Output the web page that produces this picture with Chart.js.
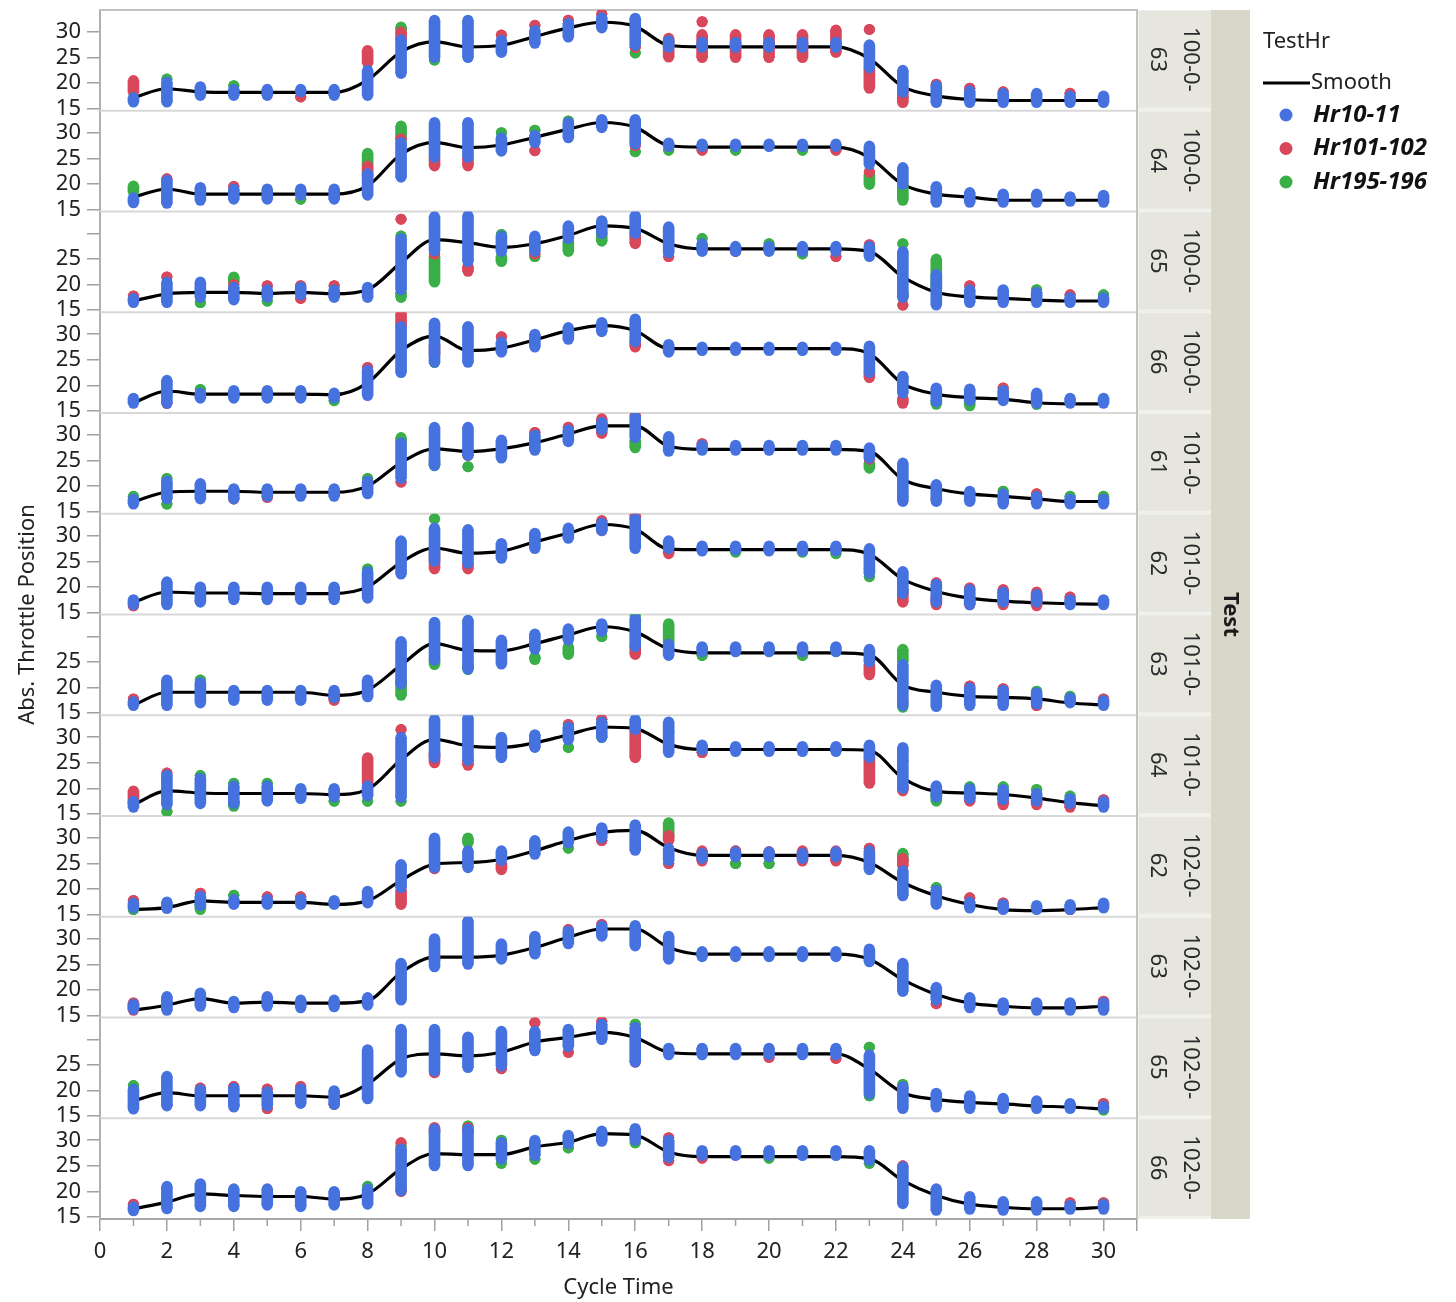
<!DOCTYPE html>
<html>
<head>
<meta charset="utf-8">
<script src="https://cdn.jsdelivr.net/npm/chart.js@4/dist/chart.umd.min.js"></script>
<style>
  html, body { margin: 0; padding: 0; background: #fff; }
</style>
</head>
<body>
<canvas id="myChart" width="1456" height="1302"></canvas>
<script>
const FONT = '"Noto Sans", "Open Sans", sans-serif';

// facet values (Test), top to bottom
const tests = ['100-0-63', '100-0-64', '100-0-65', '100-0-66', '101-0-61', '101-0-62',
               '101-0-63', '101-0-64', '102-0-62', '102-0-63', '102-0-65', '102-0-66'];
const cycle = [1, 2, 3, 4, 5, 6, 7, 8, 9, 10, 11, 12, 13, 14, 15, 16, 17, 18, 19, 20,
               21, 22, 23, 24, 25, 26, 27, 28, 29, 30];
const seriesNames = ['Hr10-11', 'Hr101-102', 'Hr195-196'];
const seriesColors = ['#4572de', '#d9475a', '#3aae47'];
const yTicks = [15, 20, 25, 30];
const xTicks = [0, 2, 4, 6, 8, 10, 12, 14, 16, 18, 20, 22, 24, 26, 28, 30, 31];
const noThirtyLabel = [2, 6, 10];

// smoother per facet, one value per cycle
const smooth = [
  [17.2,18.9,18.3,18.2,18.2,18.2,18.2,20.6,26.1,28.1,27.1,27.4,29.1,30.8,31.9,31.1,27.4,27.1,27.1,27.1,27.1,27.1,24.8,19.3,17.5,16.8,16.6,16.6,16.6,16.6],
  [17.4,19,18,18,18,18,18,19.6,25.8,28.1,27.1,27.6,29.1,30.7,32,31.1,27.5,27.2,27.2,27.2,27.2,27.2,25.2,19.9,18,17.4,16.8,16.8,16.8,16.8],
  [16.8,18.2,18.5,18.5,18.3,18.5,18.2,19,24.3,28.8,28.2,27.3,28,29.6,31.5,31,28,27,27,27,27,27,26.5,21.5,18.5,17.6,17.3,17,16.8,16.8],
  [16.6,18.9,18.3,18.3,18.3,18.3,18.2,20.5,26.8,29.7,26.8,27.3,28.9,30.7,31.7,30.7,27.2,27.2,27.2,27.2,27.2,27.2,26.2,20.3,18.3,17.6,17.3,16.6,16.4,16.4],
  [17,18.8,19,19,18.8,18.8,18.8,20,24.6,27.3,26.8,27.3,28.5,30.2,31.8,31.8,27.8,27.2,27.2,27.2,27.2,27.2,26.8,21.3,19.5,18.5,18,17.5,17,17],
  [17,19,18.8,18.8,18.7,18.7,18.7,20,24.8,27.6,26.6,27,28.8,30.5,32.2,31.3,27.4,27.3,27.3,27.3,27.3,27.3,26.4,21.5,19.1,17.8,17.2,16.9,16.7,16.6],
  [16.6,19.1,19.1,19.1,19.1,19.1,18.5,19.5,24.4,28.6,27.3,27.2,28.6,30.3,31.9,30.9,27.6,26.8,26.8,26.8,26.8,26.8,26.4,20.5,19.1,18.3,18.1,17.8,17,16.6],
  [16.8,19.5,19.1,19,19,19,18.8,19.8,25.6,29.6,28.3,28,28.9,30.5,32,31.7,28.6,27.6,27.6,27.6,27.6,27.6,27.4,22,19.4,19.1,18.8,18.1,17.2,16.6],
  [16,16.4,17.7,17.4,17.4,17.4,17,17.7,21.7,24.9,25.2,25.8,27.5,29.5,31.1,31.5,28.1,26.6,26.6,26.6,26.6,26.6,25.2,21.3,18.7,17,16,15.8,16,16.4],
  [16,17,18.3,17.4,17.6,17.4,17.4,17.9,23.4,26.4,26.4,26.8,28.3,30.3,31.9,31.9,28.3,27,27,27,27,27,26,22,19.1,17.4,16.8,16.5,16.5,16.8],
  [18,19.6,19,19,19,19,18.7,21.3,26.2,27.2,26.8,27.5,29.5,30.4,31.4,30.4,27.5,27.2,27.2,27.2,27.2,27.2,24.2,19.6,18.3,17.7,17.4,17,16.8,16.4],
  [16.6,17.9,19.5,19.2,19,19,18.5,19.5,24.4,27.4,27.2,27.2,28.7,29.6,31.3,31,27.7,26.8,26.8,26.8,26.8,26.8,26.4,22.1,19.2,17.5,16.9,16.6,16.6,16.9]
];

// Hr10-11: lowest and highest point per cycle, per facet
const blue = [
  [[16.3,17.2],[16.3,20.2],[17.6,19.3],[17.6,18.8],[17.6,18.8],[18.3,18.8],[17.6,18.8],[17.6,22.5],[21.9,28.5],[25,32.3],[25,32.3],[26,28.4],[27.8,30.3],[29,31.7],[30.8,32.8],[27.4,32.7],[27,28.3],[27,28],[27,28],[27,28],[27,28],[27,28],[23,27.5],[18.2,22.5],[16.2,19.5],[16.2,18.5],[16.2,18],[16.2,18],[16.2,17.5],[16.2,17.5]],
  [[16.3,17.3],[16.2,20.7],[16.8,19.3],[17,19],[17,19],[17.8,19],[17,19],[17.8,22],[21.3,28.1],[25.2,32],[25.2,32],[26.4,29],[28,29.5],[29,32],[31,32.6],[27.8,32.6],[27.3,28],[27.3,27.8],[27.3,27.8],[27.3,27.8],[27.3,27.8],[27.3,27.8],[23.8,27.4],[19.9,23.2],[16.4,19.5],[16.4,18.3],[16.4,18],[16.4,18],[16.6,17.5],[16.4,17.8]],
  [[16.5,17.3],[16.5,20.5],[17.5,20.5],[17,19.5],[17.5,19],[18,19.5],[17.5,19],[17.5,19.5],[19,29],[26.6,33.3],[24.5,33.5],[26.5,29.5],[26.5,29.5],[29,31.5],[30,32.5],[30,33.5],[26.2,31.3],[26.5,28],[26.5,27.5],[26.5,27.5],[26.5,27.5],[26.5,27.5],[25.5,27.5],[17.5,26.5],[16,22],[16.5,19],[16.5,19],[16.5,18.5],[16.5,17.5],[16.5,17.5]],
  [[16.5,17.5],[16.5,21],[17.5,18.5],[17.5,19],[17.5,19],[17.5,19],[17.5,18.5],[18,23],[22.5,31.5],[24.5,32.2],[24.5,31.5],[26.5,28.5],[27.5,30],[29,31.3],[30.5,32.3],[28.5,33],[26.5,28],[26.8,27.5],[26.8,27.5],[26.8,27.5],[26.8,27.5],[26.8,27.5],[22.5,27.7],[18.5,21.8],[16.8,19.5],[17,19.3],[17,19],[16.5,18.5],[16.5,17.5],[16.5,17.5]],
  [[16.5,17.5],[17.5,21],[17.5,20.5],[17.5,19.5],[18,19.5],[18,19.5],[18,19.5],[18.5,21],[21.5,28.5],[24,31.5],[26,31.5],[25.5,29],[27,30],[28.7,31],[31,32.5],[29.5,33.5],[26.8,29.7],[27,28],[27,28],[27,28],[27,28],[27,28],[25.5,27.5],[17,24.5],[17,20.3],[17,19],[16.5,18.5],[16.5,18],[16.5,17.5],[16.5,17.5]],
  [[16.5,17.5],[16.5,21],[17,20],[17.5,20],[17.5,20],[17.5,20],[17.5,20],[17.8,23],[22.5,29],[25,31.5],[24.6,31.2],[25.6,28.5],[27.5,30.5],[29.5,31.5],[31,32.5],[27.5,33.3],[27.5,29],[27,28],[27.2,28],[27,28],[27,28],[27,28],[22.6,27.5],[18.7,23],[17,20.5],[16.5,19.5],[17,19],[17,18.5],[16.5,17.5],[16.5,17.5]],
  [[16.5,17.3],[16.5,21.5],[17,21],[17.5,19.5],[17.5,19.5],[17.5,19.5],[18,19.5],[18.2,21.5],[20.7,29],[25.4,32.8],[23.6,33.2],[24.6,29.3],[27.5,30.5],[29.3,31.5],[31,32.5],[28,33.5],[26.3,28.5],[27,28],[27,28],[27,28],[27,28],[27,28],[25,27.5],[16.5,24.5],[16.3,20.5],[16.5,20],[16.5,19.5],[16.8,19],[17,18],[16.5,17.5]],
  [[16.3,17.5],[16.8,22.6],[17,22],[17,20.5],[17.5,20.5],[18,20],[18.3,20],[18.5,20.5],[18.2,30],[26,33.5],[25.5,33.8],[26,30],[28,30.5],[29.5,32],[30,33],[31.5,33.5],[27,33],[27.5,28.5],[27.2,28.2],[27.2,28.2],[27.2,28.2],[27.2,28.2],[26,28.5],[20,28],[18.3,20.5],[18,20],[17.8,19.8],[17.5,19],[17,18],[16.3,17.5]],
  [[16.3,17.3],[16.2,17.5],[16.8,18.6],[17,18],[17,18],[17,18],[17,17.8],[17.3,19.6],[20.3,24.8],[24.2,30],[24.2,27.5],[25.6,27.5],[26.8,29.5],[29,31.2],[30,32],[27.6,32.6],[25.6,28],[26,27],[26.3,27.3],[26.3,27.3],[26,27],[26.3,27.3],[23.8,27.5],[18.7,23.6],[17,19.8],[16.3,17.5],[16,17],[16,16.8],[16,17],[16.3,17.3]],
  [[16.2,17.2],[16,18.7],[16.8,19.4],[16.5,17.8],[16.8,18.7],[16.5,18],[16.7,18],[17,18.5],[18,25.2],[24.5,30],[25,33.5],[26,29],[27,30.5],[29,31.5],[30.5,32.5],[28.6,32.6],[26,30.5],[26.5,27.5],[26.5,27.5],[26.5,27.5],[26.5,27.5],[26.5,27.5],[25.5,28],[19.7,25.2],[18,20.5],[16.5,18.5],[16,17.5],[16,17.5],[16,17.5],[16,17.5]],
  [[16.4,20.3],[17,22.8],[17,20.2],[16.8,20.5],[17,19.8],[17.5,20.3],[17.3,20],[18.4,28],[23.6,32],[23.8,32],[24.5,30.5],[24.8,31.6],[27.8,31.6],[28.6,32],[30,33],[25.6,32.4],[27,28.3],[27,28.3],[27,28.3],[27,28.3],[27,28.3],[27,28.3],[19.3,27],[16.5,20.8],[16.8,19.5],[16.5,19],[16.5,18.5],[16.5,18],[16.5,17.5],[16.5,17]],
  [[16.2,17],[16.6,21],[17,21.5],[17,20.5],[17.3,20.5],[17,20],[17.3,20],[17.5,20.5],[20.1,28.3],[25,32.2],[25,32.2],[26.3,29.6],[27,30],[29.3,31],[29.8,31.8],[30,32.3],[26.6,30],[27,28],[27,28],[27,28],[27,28],[27,28],[26,28],[17.6,24.8],[16.3,20.5],[16.5,19],[16.3,18],[16.3,18],[16.5,17.3],[16.5,17.5]]
];

// Hr101-102 and Hr195-196: [cycle, low, high] where they show beside Hr10-11
const red = [
  [[1,18.2,20.5],[6,17.3,17.3],[8,23.9,26.4],[9,28.5,30],[10,25.5,25.5],[11,28,28],[12,29.4,29.4],[13,31.3,31.3],[14,32.3,32.3],[15,33.5,33.5],[16,27,27],[17,25.1,28.8],[18,25,29.5],[18,32,32],[19,25,29.5],[20,25,29.5],[21,25,29.5],[22,26,30.4],[23,19,23],[23,30.5,30.5],[24,16.2,18.9],[25,19.8,19.8],[26,19,19],[27,18.3,18.3],[29,18,18]],
  [[2,21,21],[4,19.5,19.5],[8,21.5,23.5],[9,28.8,28.8],[10,23.5,25],[11,23.5,25],[13,26.5,26.5],[16,27.5,27.5],[18,26.6,26.6],[22,26.6,26.6],[23,22.3,22.3]],
  [[1,17.8,17.8],[2,21.5,21.5],[4,20,20],[5,19.8,19.8],[6,17.3,17.3],[6,19.8,19.8],[7,19.8,19.8],[9,32.8,32.8],[10,26,26],[11,22.6,23.6],[13,26,26],[16,28,30],[17,25.5,25.5],[19,26.5,26.5],[22,25.5,25.5],[23,27.8,27.8],[24,16,16],[26,19.8,19.8],[29,18,18]],
  [[2,16.5,16.5],[8,23.5,23.5],[9,31.5,34],[10,26,28],[12,29.5,29.5],[16,27.5,28.5],[23,21.5,22.5],[24,16.5,17.5],[27,19.5,19.5]],
  [[4,17.5,17.5],[5,17.8,17.8],[9,20.8,20.8],[10,25.5,25.5],[11,26,26],[13,30.5,30.5],[14,31.5,31.5],[15,30.3,33.2],[16,33.8,33.8],[18,28.3,28.3],[23,25.3,25.3],[25,17.5,17.5],[28,18.5,18.5]],
  [[1,16.3,16.3],[3,17.3,17.3],[10,23.5,27],[11,23.5,24.5],[15,31,33],[16,33.3,34],[17,26.5,27],[23,23.5,23.5],[24,17,19.5],[25,20.8,20.8],[25,16.5,18],[26,16.5,17.5],[26,19.8,19.8],[27,16.5,19.5],[28,16.3,19],[29,18,18]],
  [[1,17.8,17.8],[7,17.5,18],[8,21,21],[10,28,28],[11,28,28],[16,26.5,28],[23,22.5,24.5],[24,17,17],[26,20.3,20.3],[27,19.8,19.8],[28,16.5,16.5],[30,17.8,17.8]],
  [[1,17,19.5],[2,23,23],[8,21,26],[9,31.5,31.5],[10,25,27],[11,24.5,25.5],[14,32.5,32.5],[15,33.5,33.5],[16,26,31.5],[18,27,27],[23,21,26],[24,19.5,20.5],[26,17.5,18.5],[27,16.8,18.3],[28,16.8,17.5],[29,16.3,17],[30,17.8,17.8]],
  [[1,17.8,17.8],[3,19.2,19.2],[5,18.5,18.5],[6,18.5,18.5],[9,17,19.8],[10,24,24],[11,25,25],[12,23.8,25],[15,29.5,29.5],[17,25,25],[17,29.5,30.5],[18,25.5,27.5],[19,27.5,27.5],[20,27.3,27.3],[21,25.5,27.5],[22,25.5,27.5],[23,28,28],[24,24.5,26],[26,18.3,18.3],[27,17.3,17.3],[29,16,16]],
  [[1,16,17.5],[10,25.8,26.3],[14,31.8,31.8],[15,32.8,32.8],[25,17.3,17.3],[30,17.8,17.8]],
  [[2,17.3,17.3],[3,20.5,20.5],[4,17.2,17.2],[4,20.8,20.8],[5,16.5,16.5],[5,20.3,20.3],[6,20.8,20.8],[7,17.3,17.3],[10,23.5,23.5],[12,24.3,24.3],[13,33.3,33.3],[14,27.5,27.5],[15,33.5,33.5],[16,25.6,25.6],[20,26.5,26.5],[22,26.3,26.3],[24,20.5,20.5],[30,17.5,17.5]],
  [[1,17.5,17.5],[9,29.5,29.5],[9,20,20],[10,31.5,32.5],[11,31.5,32.5],[17,30.5,30.5],[17,26,26],[18,26.5,26.5],[24,25,25],[29,17.8,17.8],[30,17.8,17.8]]
];
const green = [
  [[2,20.8,20.8],[4,19.5,19.5],[9,30.2,31],[10,24.5,24.5],[16,25.9,25.9],[24,17.3,17.3]],
  [[1,18.4,19.6],[6,17,17],[8,23.5,26],[9,28.5,31.3],[12,30,30],[13,30.5,30.5],[14,32.3,32.3],[16,26.3,26.3],[17,26.6,26.6],[19,26.6,26.6],[21,26.6,26.6],[23,19.9,21.8],[24,16.8,19.5]],
  [[3,16.5,16.5],[4,20.5,21.5],[5,16.8,16.8],[9,17.5,18.5],[9,29.5,29.5],[10,20.5,25.6],[12,24.5,25.5],[12,29.8,29.8],[13,25.5,25.5],[14,26.5,28.5],[15,28.5,30],[18,29,29],[20,28,28],[21,26,26],[24,17.5,18.5],[24,28,28],[25,19.5,25],[28,19,19],[30,18,18]],
  [[2,18.5,18.5],[3,19.2,19.2],[7,17,17],[10,24.5,24.5],[24,21.5,21.5],[25,16.3,17],[26,16,17],[28,16.3,16.3]],
  [[1,18,18],[2,16.5,16.5],[2,21.5,21.5],[8,21.5,21.5],[9,28.8,29.5],[10,24,25],[11,23.8,23.8],[16,27.5,29],[23,23.5,24.5],[24,18,18],[27,19,19],[29,18,18],[30,18,18]],
  [[8,23.5,23.5],[10,33.3,33.3],[19,26.8,26.8],[21,26.8,26.8],[22,26.5,26.5],[23,22,22],[24,19.5,19.5]],
  [[3,21.5,21.5],[9,18.5,21.5],[10,24.5,25.5],[11,23.5,24.5],[13,25.5,26],[14,26.5,28],[15,30,30],[16,34,34],[17,28.8,32.5],[18,26.3,26.3],[21,26.3,26.3],[24,25,27.5],[24,16.2,16.2],[28,19.3,19.3],[29,18.3,18.3]],
  [[2,15.5,15.5],[3,22.5,22.5],[4,16.5,17.5],[4,21,21],[5,21,21],[7,17.5,17.5],[8,17.5,17.5],[9,17.5,17.5],[14,28,28],[15,30,30],[17,31,31],[24,25.5,25.5],[25,17.5,19],[26,20.3,20.3],[27,20.3,20.3],[28,19.8,19.8],[29,18.5,18.5]],
  [[1,16,16],[3,16,17],[4,18.8,18.8],[10,28.8,28.8],[11,29,30],[14,28,28],[17,30.5,33],[19,25,25],[20,25,25],[24,25.5,27],[25,20.3,20.3]],
  [],
  [[1,21,21],[16,33,33],[23,19,19],[23,28.5,28.5],[24,21.2,21.2],[30,16.2,16.2]],
  [[8,21,21],[9,28.8,28.8],[11,32.8,32.8],[12,30,30],[12,25.5,25.5],[13,26.3,26.3],[14,28.5,28.5],[16,29.5,29.5],[20,26.5,26.5],[23,25.5,25.5]]
];

const datasets = [];
const scales = {
  x: {
    type: 'linear', min: 0, max: 31, offset: false,
    afterBuildTicks: s => { s.ticks = xTicks.map(v => ({value: v})); },
    afterFit: s => { s.height = 83; s.paddingLeft = 0; s.paddingRight = 0; },
    ticks: {
      autoSkip: false, maxRotation: 0, padding: 8, color: '#222',
      font: {family: FONT, size: 22},
      callback: v => (v <= 30 ? v : '')
    },
    grid: {drawOnChartArea: false, offset: false, tickLength: 12, color: '#a0a0a0', lineWidth: 1.5},
    border: {color: '#a8a8a8', width: 2},
    title: {display: true, text: 'Cycle Time', color: '#222', font: {family: FONT, size: 22}, padding: {top: 0, bottom: 1}}
  }
};

// stacked axes are laid out bottom-up, so add the last facet first
for (let p = tests.length - 1; p >= 0; p--) {
  scales['y' + p] = {
    type: 'linear', position: 'left', stack: 'rows', stackWeight: 1,
    min: 14.6, max: 34.3,
    afterBuildTicks: s => { s.ticks = yTicks.map(v => ({value: v})); },
    afterFit: s => { s.width = 100; s.paddingTop = 0; s.paddingBottom = 0; },
    ticks: {
      autoSkip: false, padding: 6, color: '#222',
      font: {family: FONT, size: 22},
      callback: v => (noThirtyLabel.includes(p) && v === 30 ? '' : v)
    },
    grid: {drawOnChartArea: false, tickLength: 13, color: '#a0a0a0', lineWidth: 1.5},
    border: {color: '#b0b0b0', width: 2}
  };
}

tests.forEach((t, p) => {
  const yID = 'y' + p;
  datasets.push({
    type: 'line', label: 'Smooth', xAxisID: 'x', yAxisID: yID,
    data: smooth[p].map((v, i) => ({x: cycle[i], y: v})),
    borderColor: '#000', borderWidth: 3.2, pointRadius: 0,
    cubicInterpolationMode: 'monotone', fill: false, order: 9
  });

  const layers = [
    {rows: green[p], color: seriesColors[2], order: 7},
    {rows: red[p], color: seriesColors[1], order: 5},
    {rows: blue[p].map((r, i) => [cycle[i], r[0], r[1]]), color: seriesColors[0], order: 3}
  ];
  layers.forEach(L => {
    datasets.push({
      type: 'bar', xAxisID: 'x', yAxisID: yID,
      data: L.rows.map(([x, lo, hi]) => ({x: x, y: [lo, hi]})),
      backgroundColor: L.color, barThickness: 11, grouped: false, order: L.order
    });
    datasets.push({
      type: 'scatter', xAxisID: 'x', yAxisID: yID,
      data: L.rows.flatMap(([x, lo, hi]) => [{x: x, y: lo}, {x: x, y: hi}]),
      backgroundColor: L.color, pointRadius: 5.5, pointBorderWidth: 0, borderWidth: 0,
      showLine: false, order: L.order - 1
    });
  });
});

const decor = {
  id: 'decor',
  beforeDatasetsDraw(chart) {
    const {ctx, chartArea: a} = chart;
    ctx.save();
    ctx.strokeStyle = '#d8d8d8';
    ctx.lineWidth = 2;
    for (let p = 0; p < tests.length - 1; p++) {
      const y = chart.scales['y' + p].bottom;
      ctx.beginPath(); ctx.moveTo(a.left, y); ctx.lineTo(a.right, y); ctx.stroke();
    }
    ctx.strokeStyle = '#c2c2c2';
    ctx.beginPath();
    ctx.moveTo(a.left, a.top); ctx.lineTo(a.right, a.top); ctx.lineTo(a.right, a.bottom);
    ctx.stroke();
    ctx.restore();
  },
  afterDraw(chart) {
    const {ctx, chartArea: a} = chart;
    const xs = chart.scales.x;
    ctx.save();

    // minor ticks on odd cycles
    ctx.strokeStyle = '#a0a0a0'; ctx.lineWidth = 1.5;
    cycle.filter(v => v % 2 === 1).forEach(v => {
      const x = xs.getPixelForValue(v);
      ctx.beginPath(); ctx.moveTo(x, a.bottom); ctx.lineTo(x, a.bottom + 7); ctx.stroke();
    });

    // facet strips
    const inL = a.right + 1, inR = 1211, outR = 1250;
    ctx.fillStyle = '#f1f1ec';
    ctx.fillRect(inL, a.top, inR - inL, a.bottom - a.top);
    ctx.fillStyle = '#d9d7c9';
    ctx.fillRect(inR, a.top, outR - inR, a.bottom - a.top);
    tests.forEach((t, p) => {
      const s = chart.scales['y' + p];
      ctx.fillStyle = '#e6e6de';
      ctx.fillRect(inL + 1, s.top + 1, inR - inL - 1, s.bottom - s.top - 4);
      const cut = t.lastIndexOf('-') + 1;
      ctx.save();
      ctx.translate((inL + inR) / 2, (s.top + s.bottom) / 2 - 1);
      ctx.rotate(Math.PI / 2);
      ctx.fillStyle = '#2a2a2a';
      ctx.font = '22px ' + FONT;
      ctx.textAlign = 'center'; ctx.textBaseline = 'middle';
      ctx.fillText(t.slice(0, cut), 0, -16);
      ctx.fillText(t.slice(cut), 0, 17);
      ctx.restore();
    });
    ctx.save();
    ctx.translate((inR + outR) / 2, (a.top + a.bottom) / 2);
    ctx.rotate(Math.PI / 2);
    ctx.fillStyle = '#1a1a1a';
    ctx.font = 'bold 22px ' + FONT;
    ctx.textAlign = 'center'; ctx.textBaseline = 'middle';
    ctx.fillText('Test', 0, 0);
    ctx.restore();

    // y axis title
    ctx.save();
    ctx.translate(28, (a.top + a.bottom) / 2);
    ctx.rotate(-Math.PI / 2);
    ctx.fillStyle = '#222';
    ctx.font = '22px ' + FONT;
    ctx.textAlign = 'center'; ctx.textBaseline = 'middle';
    ctx.fillText('Abs. Throttle Position', 0, 0);
    ctx.restore();

    // legend
    ctx.textAlign = 'left'; ctx.textBaseline = 'middle';
    ctx.fillStyle = '#222';
    ctx.font = '22px ' + FONT;
    ctx.fillText('TestHr', 1263, 42);
    ctx.strokeStyle = '#000'; ctx.lineWidth = 3;
    ctx.beginPath(); ctx.moveTo(1263, 83); ctx.lineTo(1310, 83); ctx.stroke();
    ctx.fillText('Smooth', 1311, 83);
    seriesNames.forEach((n, i) => {
      const y = 115 + i * 33.5;
      ctx.fillStyle = seriesColors[i];
      ctx.beginPath(); ctx.arc(1286, y, 6.5, 0, Math.PI * 2); ctx.fill();
      ctx.fillStyle = '#111';
      ctx.font = 'italic bold 24px ' + FONT;
      ctx.fillText(n, 1313, y);
    });
    ctx.restore();
  }
};

const ctx = document.getElementById('myChart').getContext('2d');
const chart = new Chart(ctx, {
  type: 'scatter',
  data: {datasets: datasets},
  options: {
    responsive: false,
    devicePixelRatio: 1,
    animation: false,
    events: [],
    layout: {padding: {top: 10, right: 319, bottom: 0, left: 0}},
    plugins: {legend: {display: false}, tooltip: {enabled: false}},
    scales: scales
  },
  plugins: [decor]
});
</script>
</body>
</html>
